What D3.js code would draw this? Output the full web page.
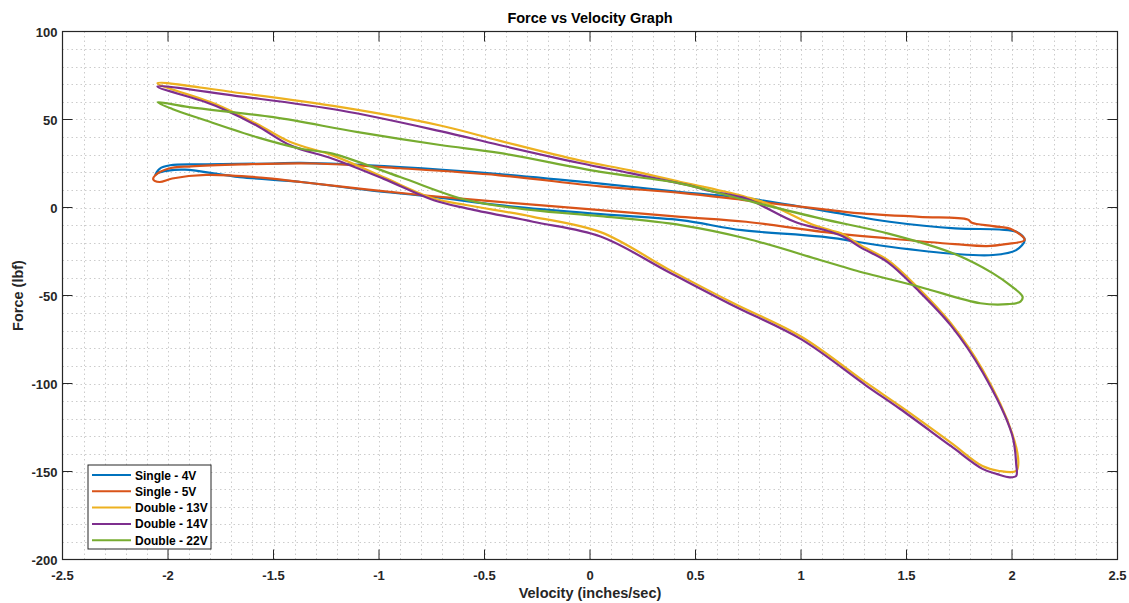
<!DOCTYPE html>
<html>
<head>
<meta charset="utf-8">
<script src="https://cdn.jsdelivr.net/npm/d3@7"></script>
<style>
  html, body { margin: 0; padding: 0; background: #fff; }
  svg { display: block; font-family: "Liberation Sans", Arial, sans-serif; }
</style>
</head>
<body>
<div id="chart"></div>
<script>
// Force vs velocity loops: [velocity, force]
var seriesNames = ["Single - 4V", "Single - 5V", "Double - 13V", "Double - 14V", "Double - 22V"];

var single4V = [
  [-2.06, 18.5], [-2.04, 22], [-1.99, 24], [-1.82, 24.5], [-1.5, 25], [-1.37, 25.3], [-0.9, 23],
  [-0.43, 19], [0.05, 13.6], [0.43, 8.8], [0.74, 5.3], [1.14, -2.5], [1.42, -8.1], [1.73, -11.9],
  [1.94, -12.5], [2.02, -13.8], [2.06, -18.5],
  [2.02, -24.2], [1.91, -27], [1.73, -26.4], [1.42, -22.3], [1.1, -16.6], [0.72, -12.9], [0.43, -7.2],
  [0.05, -3.8], [-0.43, 1.3], [-0.74, 6], [-1.05, 9.8], [-1.37, 14.5], [-1.66, 17.3], [-1.92, 21.5],
  [-2.0, 21], [-2.05, 19.5]
];

var single5V = [
  [-2.06, 18.3], [-2.0, 22], [-1.89, 23.4], [-1.65, 24.5], [-1.3, 25], [-0.9, 22.3], [-0.43, 18.3],
  [0.05, 12], [0.43, 8.3], [0.74, 4.1], [1.14, -1.5], [1.25, -3], [1.56, -5.3], [1.79, -6.8],
  [1.81, -8.7], [1.91, -10.6], [2.0, -12.5], [2.06, -18.5],
  [1.97, -20.8], [1.88, -21.9], [1.73, -20.8], [1.42, -17.6], [1.1, -13.8], [0.74, -8.1], [0.43, -5.3],
  [0.05, -1.5], [-0.43, 3.2], [-0.74, 6.4], [-1.05, 10.2], [-1.37, 14.5], [-1.56, 17], [-1.82, 18.5],
  [-1.98, 16.5], [-2.04, 14.5], [-2.07, 16]
];

var double13V = [
  [-2.05, 70.6], [-1.65, 64.9], [-1.18, 57], [-0.71, 46.6], [-0.43, 38], [-0.05, 26.8], [0.19, 21.1],
  [0.43, 14.5], [0.54, 11.7], [0.74, 6], [0.84, 2.3], [1.06, -10], [1.14, -12.9], [1.19, -14.7],
  [1.28, -21.3], [1.41, -29.8], [1.55, -45], [1.71, -65.7], [1.86, -92.1], [2.0, -128], [2.03, -145],
  [2.02, -149.7],
  [1.94, -149.7], [1.86, -146.9], [1.71, -133.6], [1.47, -112.9], [1.31, -99.7], [1.0, -73.3],
  [0.68, -54.4], [0.37, -35], [0.05, -14], [-0.27, -5.3], [-0.58, 1.3], [-0.74, 5.1],
  [-0.98, 17.3], [-1.22, 29.6], [-1.42, 37.2], [-1.58, 47.6], [-1.74, 57], [-1.82, 60.8]
];

var double14V = [
  [-2.05, 68.7], [-1.65, 63], [-1.18, 55.1], [-0.71, 43.4], [-0.43, 35.5], [-0.05, 25.3], [0.19, 19.5],
  [0.43, 13.6], [0.49, 12], [0.55, 9.8], [0.74, 5.1], [0.81, 1.3], [0.97, -8.1], [1.14, -13.8],
  [1.2, -16.5], [1.28, -22.5], [1.41, -31], [1.55, -46.5], [1.71, -67], [1.86, -93.5], [2.0, -129],
  [2.02, -146], [2.02, -152.5], [1.99, -153.3],
  [1.93, -151.5], [1.86, -148.5], [1.71, -135.5], [1.47, -114.5], [1.31, -101.3], [1.0, -74.8],
  [0.68, -55.8], [0.37, -36.5], [0.05, -16.5], [-0.27, -8.1], [-0.58, -0.6], [-0.74, 4.1],
  [-0.98, 16.4], [-1.22, 27.7], [-1.42, 35.3], [-1.58, 46.6], [-1.74, 56], [-1.82, 59.8]
];

var double22V = [
  [-2.05, 59.8], [-1.9, 57], [-1.5, 51.3], [-1.1, 42.8], [-0.71, 35.5], [-0.43, 31], [0.05, 20.2],
  [0.43, 13.6], [0.74, 4.1], [1.09, -6.2], [1.41, -14.7], [1.72, -26], [1.91, -37.4], [2.0, -45],
  [2.05, -50.6], [2.04, -53.5],
  [1.98, -54.9], [1.85, -54.4], [1.56, -45], [1.25, -35.5], [1.09, -29.8], [0.74, -17.6], [0.43, -10],
  [0.05, -4.9], [-0.27, -1.5], [-0.58, 4.1], [-0.9, 17.3], [-1.22, 30.6], [-1.37, 33.4], [-1.58, 40],
  [-1.82, 49.4], [-1.98, 56]
];

var xTicks = [-2.5, -2, -1.5, -1, -0.5, 0, 0.5, 1, 1.5, 2, 2.5];
var yTicks = [-200, -150, -100, -50, 0, 50, 100];

var allSeries = [single4V, single5V, double13V, double14V, double22V];
var colors = ["#0072BD", "#D95319", "#EDB120", "#7E2F8E", "#77AC30"];

/* layout */
var W = 1129, H = 603;
var plot = {left: 62.5, right: 1117.5, top: 31.5, bottom: 559.5};
var axisColor = "#262626";

var x = d3.scaleLinear().domain([-2.5, 2.5]).range([plot.left, plot.right]);
var y = d3.scaleLinear().domain([-200, 100]).range([plot.bottom, plot.top]);

var svg = d3.select("#chart").append("svg")
    .attr("width", W)
    .attr("height", H);

/* minor and major grid, all dotted like the matlab figure */
var grid = svg.append("g").attr("class", "grid");
var minorX = d3.range(-2.4, 2.5, 0.1);
var minorY = d3.range(-190, 100, 10);
grid.selectAll("line.mx").data(minorX).enter().append("line")
    .attr("x1", function (d) { return Math.round(x(d)) + 0.5; })
    .attr("x2", function (d) { return Math.round(x(d)) + 0.5; })
    .attr("y1", plot.top).attr("y2", plot.bottom)
    .attr("stroke", "#cccccc").attr("stroke-width", 1).attr("stroke-dasharray", "1.5,3");
grid.selectAll("line.my").data(minorY).enter().append("line")
    .attr("y1", function (d) { return Math.round(y(d)) + 0.5; })
    .attr("y2", function (d) { return Math.round(y(d)) + 0.5; })
    .attr("x1", plot.left).attr("x2", plot.right)
    .attr("stroke", "#cccccc").attr("stroke-width", 1).attr("stroke-dasharray", "1.5,3");

/* loops */
var line = d3.line()
    .x(function (d) { return x(d[0]); })
    .y(function (d) { return y(d[1]); })
    .curve(d3.curveCatmullRomClosed.alpha(0.5));

svg.append("g").selectAll("path").data(allSeries).enter().append("path")
    .attr("d", line)
    .attr("fill", "none")
    .attr("stroke", function (d, i) { return colors[i]; })
    .attr("stroke-width", 2.2)
    .attr("stroke-linejoin", "round");

/* axes box with inward ticks on all four sides */
var tickLen = 10;
var frame = svg.append("g");
frame.append("rect")
    .attr("x", plot.left).attr("y", plot.top)
    .attr("width", plot.right - plot.left).attr("height", plot.bottom - plot.top)
    .attr("fill", "none").attr("stroke", axisColor).attr("stroke-width", 1.2);

xTicks.forEach(function (t) {
  var px = x(t);
  frame.append("line").attr("x1", px).attr("x2", px)
      .attr("y1", plot.bottom).attr("y2", plot.bottom - tickLen)
      .attr("stroke", axisColor).attr("stroke-width", 1);
  frame.append("line").attr("x1", px).attr("x2", px)
      .attr("y1", plot.top).attr("y2", plot.top + tickLen)
      .attr("stroke", axisColor).attr("stroke-width", 1);
  frame.append("text")
      .attr("x", px).attr("y", plot.bottom + 20)
      .attr("text-anchor", "middle")
      .attr("font-size", 13).attr("font-weight", "bold").attr("fill", axisColor)
      .text(t);
});

yTicks.forEach(function (t) {
  var py = y(t);
  frame.append("line").attr("y1", py).attr("y2", py)
      .attr("x1", plot.left).attr("x2", plot.left + tickLen)
      .attr("stroke", axisColor).attr("stroke-width", 1);
  frame.append("line").attr("y1", py).attr("y2", py)
      .attr("x1", plot.right).attr("x2", plot.right - tickLen)
      .attr("stroke", axisColor).attr("stroke-width", 1);
  frame.append("text")
      .attr("x", plot.left - 5).attr("y", py + 5)
      .attr("text-anchor", "end")
      .attr("font-size", 13).attr("font-weight", "bold").attr("fill", axisColor)
      .text(t);
});

/* titles */
svg.append("text")
    .attr("x", (plot.left + plot.right) / 2).attr("y", 23)
    .attr("text-anchor", "middle")
    .attr("font-size", 14.5).attr("font-weight", "bold").attr("fill", "#000")
    .text("Force vs Velocity Graph");
svg.append("text")
    .attr("x", (plot.left + plot.right) / 2).attr("y", 598)
    .attr("text-anchor", "middle")
    .attr("font-size", 14.5).attr("font-weight", "bold").attr("fill", axisColor)
    .text("Velocity (inches/sec)");
svg.append("text")
    .attr("transform", "translate(23," + ((plot.top + plot.bottom) / 2) + ") rotate(-90)")
    .attr("text-anchor", "middle")
    .attr("font-size", 14.5).attr("font-weight", "bold").attr("fill", axisColor)
    .text("Force (lbf)");

/* legend */
var legend = svg.append("g").attr("transform", "translate(88,465)");
legend.append("rect")
    .attr("width", 123).attr("height", 84)
    .attr("fill", "#fff").attr("stroke", axisColor).attr("stroke-width", 1);
seriesNames.forEach(function (name, i) {
  var ly = 10 + i * 16.3;
  legend.append("line")
      .attr("x1", 4).attr("x2", 43).attr("y1", ly).attr("y2", ly)
      .attr("stroke", colors[i]).attr("stroke-width", 2);
  legend.append("text")
      .attr("x", 47).attr("y", ly + 4.5)
      .attr("font-size", 12).attr("font-weight", "bold").attr("fill", "#000")
      .text(name);
});
</script>
</body>
</html>
